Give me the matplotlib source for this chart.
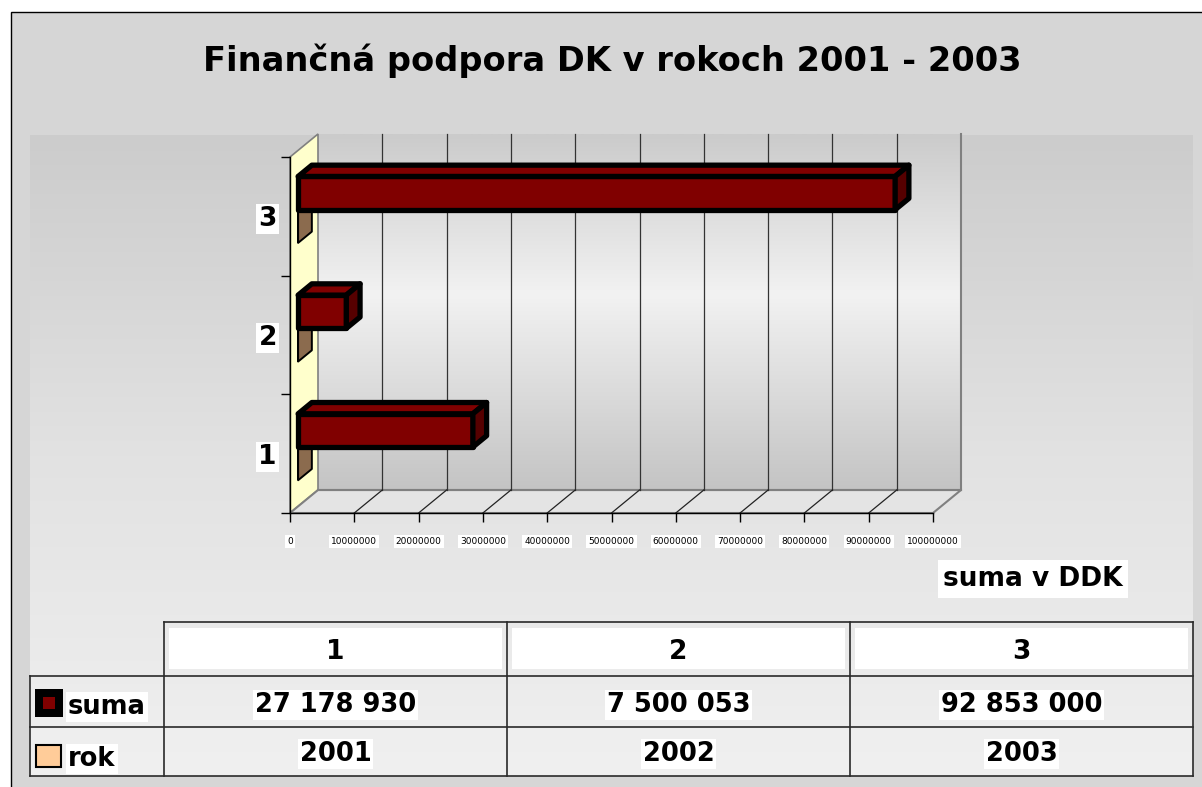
import numpy as np
import matplotlib
matplotlib.use("Agg")
import matplotlib.pyplot as plt
from matplotlib.patches import Polygon, Rectangle
from matplotlib.transforms import ScaledTranslation, IdentityTransform
from matplotlib.colors import LinearSegmentedColormap

# ---------------- data ----------------
categories = ["1", "2", "3"]
series_names = ["suma", "rok"]
suma_values = [27178930, 7500053, 92853000]
rok_values = [2001, 2002, 2003]
suma_text = ["27 178 930", "7 500 053", "92 853 000"]
rok_text = ["2001", "2002", "2003"]
x_ticks = [0, 10000000, 20000000, 30000000, 40000000, 50000000,
           60000000, 70000000, 80000000, 90000000, 100000000]
title_text = "Finančná podpora DK v rokoch 2001 - 2003"
x_title = "suma v DDK"

# ---------------- style ----------------
plt.rcParams['font.family'] = ['DejaVu Sans']
W, H, DPI = 1202, 787, 100
SUMA_FRONT, SUMA_TOP, SUMA_SIDE = "#800000", "#800000", "#560000"
ROK_FRONT, ROK_SIDE = "#ffcc99", "#8b6b4e"
DX, DY = 28, 23            # depth of the 3-D box in pixels
BAR_F0, BAR_F1 = 0.29, 0.78  # depth fraction of bars
BAR_H = 0.28               # bar thickness in category units

fig = plt.figure(figsize=(W / DPI, H / DPI), dpi=DPI)
fig.patch.set_facecolor("white")

# ---------------- background / layout layer (pixel coords) ----------------
bg = fig.add_axes([0, 0, 1, 1])
bg.set_xlim(0, W)
bg.set_ylim(H, 0)
bg.axis("off")
bg.add_patch(Rectangle((10.5, 11.5), W, H, facecolor="#d6d6d6",
                       edgecolor="black", lw=1, zorder=0))
grad = np.linspace(0, 1, 256).reshape(-1, 1)
area_cmap = LinearSegmentedColormap.from_list("area", ["#cccccc", "#e2e2e2", "#f0f0f0"])
bg.imshow(grad, extent=(30, 1193, 776, 135), cmap=area_cmap, aspect="auto",
          zorder=1, interpolation="bilinear")
bg.set_xlim(0, W)
bg.set_ylim(H, 0)

bg.text(612, 71, title_text, ha="center", va="baseline", fontsize=24.2,
        fontweight="bold", color="black", zorder=5)
bg.text(1033, 579, x_title, ha="center", va="center", fontsize=19,
        fontweight="bold", color="black", zorder=5,
        bbox=dict(facecolor="white", edgecolor="none", pad=4))

# data table
col_edges = [164, 507, 850, 1193]
row_edges = [622, 676, 727, 776]
row_left = 30
lc = "#2a2a2a"
bg.plot([col_edges[0], col_edges[-1]], [row_edges[0]] * 2, color=lc, lw=1.2, zorder=3)
for y in row_edges[1:]:
    bg.plot([row_left, col_edges[-1]], [y, y], color=lc, lw=1.2, zorder=3)
bg.plot([row_left, row_left], [row_edges[1], row_edges[-1]], color=lc, lw=1.2, zorder=3)
for x in col_edges:
    bg.plot([x, x], [row_edges[0], row_edges[-1]], color=lc, lw=1.2, zorder=3)

for i, cat in enumerate(categories):
    x0, x1 = col_edges[i], col_edges[i + 1]
    cx = (x0 + x1) / 2
    bg.add_patch(Rectangle((x0 + 5, row_edges[0] + 6), x1 - x0 - 10,
                           row_edges[1] - row_edges[0] - 13,
                           facecolor="white", edgecolor="none", zorder=2))
    bg.text(cx, 659, cat, ha="center", va="baseline", fontsize=19,
            fontweight="bold", zorder=5)
    bg.text(cx, 712, suma_text[i], ha="center", va="baseline", fontsize=18.5,
            fontweight="bold", zorder=5,
            bbox=dict(facecolor="white", edgecolor="none", pad=1.5))
    bg.text(cx, 761, rok_text[i], ha="center", va="baseline", fontsize=18.5,
            fontweight="bold", zorder=5,
            bbox=dict(facecolor="white", edgecolor="none", pad=1.5))

# row headers with legend keys
bg.add_patch(Rectangle((35, 689), 28, 28, facecolor="black", edgecolor="none", zorder=4))
bg.add_patch(Rectangle((43, 697), 12, 12, facecolor=SUMA_FRONT, edgecolor="none", zorder=5))
bg.add_patch(Rectangle((36, 745), 25, 22, facecolor=ROK_FRONT, edgecolor="black",
                       lw=1.5, zorder=4))
bg.text(68, 714, series_names[0], ha="left", va="baseline", fontsize=18.5,
        fontweight="bold", zorder=5,
        bbox=dict(facecolor="white", edgecolor="none", pad=1.5))
bg.text(68, 766, series_names[1], ha="left", va="baseline", fontsize=18.5,
        fontweight="bold", zorder=5,
        bbox=dict(facecolor="white", edgecolor="none", pad=1.5))

# ---------------- 3-D bar chart (front plane axes) ----------------
fx0, fx1, fy0, fy1 = 290, 933, 157, 513
ax = fig.add_axes([fx0 / W, (H - fy1) / H, (fx1 - fx0) / W, (fy1 - fy0) / H])
ax.set_autoscale_on(False)
ax.set_xlim(x_ticks[0], x_ticks[-1])
ax.set_ylim(0.5, len(categories) + 0.5)
ax.patch.set_visible(False)

xmin, xmax = x_ticks[0], x_ticks[-1]
ymin, ymax = 0.5, len(categories) + 0.5


def off(f):
    return ax.transData + ScaledTranslation(DX * f / DPI, DY * f / DPI, fig.dpi_scale_trans)


def disp(pts):
    return np.array([off(f).transform((x, y)) for x, y, f in pts])


def face(pts, fc, ec="#808080", lw=1.0, z=1.0, **kw):
    p = Polygon(disp(pts), closed=True, facecolor=fc, edgecolor=ec, lw=lw,
                transform=IdentityTransform(), clip_on=False, zorder=z, **kw)
    ax.add_artist(p)
    return p


# back wall gradient
wall_cmap = LinearSegmentedColormap.from_list(
    "wall", [(0, "#cbcbcb"), (0.45, "#f2f2f2"), (1, "#c4c4c4")])
ax.imshow(grad, extent=(xmin, xmax, ymin, ymax), cmap=wall_cmap, aspect="auto",
          transform=off(1), clip_on=False, zorder=0.5, interpolation="bilinear")
ax.set_xlim(xmin, xmax)
ax.set_ylim(ymin, ymax)

# left wall
face([(xmin, ymin, 0), (xmin, ymax, 0), (xmin, ymax, 1), (xmin, ymin, 1)],
     "#ffffcc", ec="#808080", lw=1.2, z=0.8)
# floor
face([(xmin, ymin, 0), (xmax, ymin, 0), (xmax, ymin, 1), (xmin, ymin, 1)],
     "#e4e4e4", ec="#808080", lw=1.5, z=0.8)
# back wall outline
ax.plot([xmax, xmax], [ymin, ymax], color="#808080", lw=1.5, transform=off(1),
        clip_on=False, zorder=0.9)
ax.plot([xmin, xmax], [ymin, ymin], color="#808080", lw=1.5, transform=off(1),
        clip_on=False, zorder=0.9)

# gridlines on back wall + floor diagonals
for v in x_ticks[1:-1]:
    ax.plot([v, v], [ymin, ymax], color="#333333", lw=0.9, transform=off(1),
            clip_on=False, zorder=1.0)
    seg = disp([(v, ymin, 0), (v, ymin, 1)])
    ax.plot(seg[:, 0], seg[:, 1], color="#222222", lw=0.9,
            transform=IdentityTransform(), clip_on=False, zorder=1.0)


def box(v, y0, y1, front, top, side, ec, lw, z):
    f0, f1 = BAR_F0, BAR_F1
    kw = dict(joinstyle="round")
    face([(0, y0, f0), (v, y0, f0), (v, y1, f0), (0, y1, f0)], front, ec, lw, z, **kw)
    face([(0, y1, f0), (v, y1, f0), (v, y1, f1), (0, y1, f1)], top, ec, lw, z, **kw)
    face([(v, y0, f0), (v, y1, f0), (v, y1, f1), (v, y0, f1)], side, ec, lw, z, **kw)


for i, cat in enumerate(categories):
    c = i + 1
    box(rok_values[i], c - BAR_H, c, ROK_FRONT, ROK_FRONT, ROK_SIDE, "black", 1.4, 2)
    box(suma_values[i], c, c + BAR_H, SUMA_FRONT, SUMA_TOP, SUMA_SIDE, "black", 3.8, 3)

# axes
for s in ("top", "right"):
    ax.spines[s].set_visible(False)
for s in ("left", "bottom"):
    ax.spines[s].set_color("black")
    ax.spines[s].set_linewidth(1.0)
    ax.spines[s].set_zorder(4)

ax.set_xticks(x_ticks)
ax.set_xticklabels([str(t) for t in x_ticks])
ax.tick_params(axis="x", direction="out", length=6.5, width=1, pad=11,
               labelsize=6.5, colors="black")
for lbl in ax.get_xticklabels():
    lbl.set_bbox(dict(facecolor="white", edgecolor="none", pad=1.5))

ax.set_yticks(np.arange(0.5, len(categories) + 1, 1.0))
ax.set_yticklabels([])
ax.set_yticks(np.arange(1, len(categories) + 1), minor=True)
ax.set_yticklabels(categories, minor=True)
ax.tick_params(axis="y", which="major", direction="out", length=6.5, width=1)
ax.tick_params(axis="y", which="minor", length=0, pad=9.5, labelsize=19)
for lbl in ax.get_yticklabels(minor=True):
    lbl.set_fontweight("bold")
    lbl.set_bbox(dict(facecolor="white", edgecolor="none", pad=1.5))

fig.savefig("out.png", dpi=DPI)
